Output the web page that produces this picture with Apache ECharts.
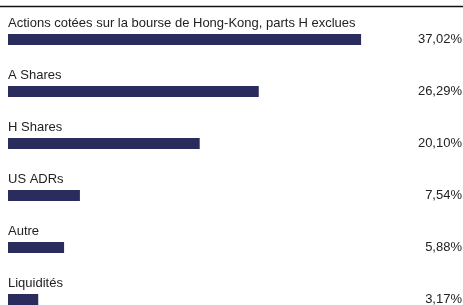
<!DOCTYPE html>
<html>
<head>
<meta charset="utf-8">
<script src="https://cdn.jsdelivr.net/npm/echarts@6/dist/echarts.min.js"></script>
<style>
html,body{margin:0;padding:0;background:#fff;}
#c{width:463px;height:305px;}
</style>
</head>
<body>
<div id="c"></div>
<script>
var categories = ["Actions cotées sur la bourse de Hong-Kong, parts H exclues", "A Shares", "H Shares", "US ADRs", "Autre", "Liquidités"];
var values = [37.02, 26.29, 20.10, 7.54, 5.88, 3.17];
var valueLabels = values.map(function (v) { return v.toFixed(2).replace('.', ',') + '%'; });

var chart = echarts.init(document.getElementById('c'), null, {renderer: 'canvas'});
var font = 'Liberation Sans, Arial, sans-serif';
chart.setOption({
  animation: false,
  grid: {left: 8, right: 1, top: 13.5, height: 312, containLabel: false, outerBoundsMode: 'none'},
  graphic: [{
    type: 'line',
    shape: {x1: 0, y1: 6.5, x2: 463, y2: 6.5},
    style: {stroke: '#111', lineWidth: 1.6}
  }],
  xAxis: {
    type: 'value', min: 0, max: 47.6,
    show: false
  },
  yAxis: [{
    type: 'category', inverse: true, data: categories,
    axisLine: {show: false}, axisTick: {show: false}, splitLine: {show: false},
    axisLabel: {
      inside: true, margin: 0, align: 'left', verticalAlign: 'bottom',
      padding: [0, 0, 10, 0],
      color: '#222', fontSize: 13, fontFamily: font
    }
  }, {
    type: 'category', inverse: true, data: valueLabels, position: 'right',
    axisLine: {show: false}, axisTick: {show: false}, splitLine: {show: false},
    axisLabel: {
      inside: true, margin: 0, align: 'right', verticalAlign: 'middle',
      color: '#222', fontSize: 13, fontFamily: font
    }
  }],
  series: [{
    type: 'bar', data: values, barWidth: 11,
    itemStyle: {color: '#2b2c5e'},
    yAxisIndex: 0
  }]
});
</script>
</body>
</html>
